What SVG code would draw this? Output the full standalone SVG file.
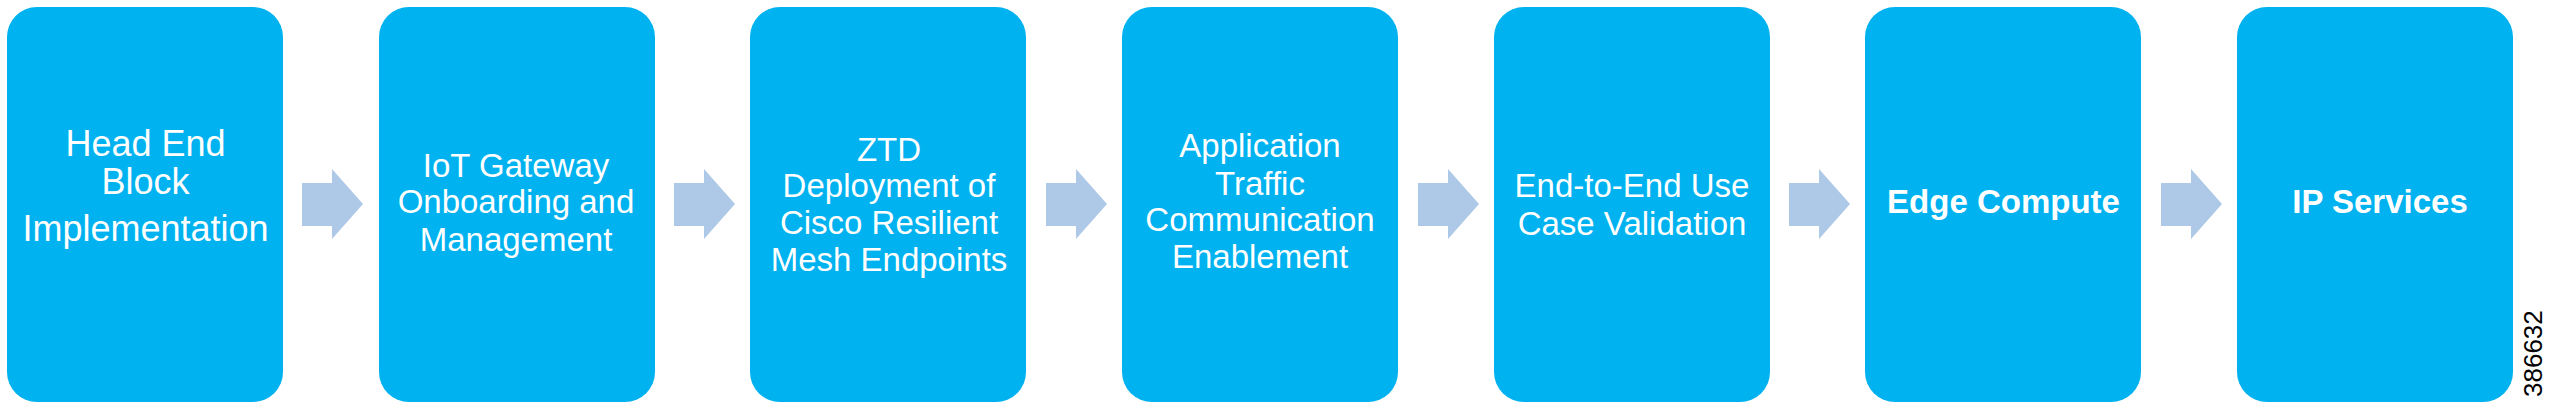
<svg xmlns="http://www.w3.org/2000/svg" width="2549" height="409" viewBox="0 0 2549 409">
<style>
.box{fill:#00b2ef}
.arr{fill:#adc9e7}
.t{font-family:"Liberation Sans",Arial,sans-serif;fill:#fff;text-anchor:middle;font-size:33px}
.b{font-weight:bold}
.id{font-family:"Liberation Sans",Arial,sans-serif;fill:#000;font-size:26px}
</style>
<defs>
<path id="arrow" class="arr" d="M0,183 H30 V169 L61,204 L30,239 V226 H0 Z"/>
</defs>
<rect width="2549" height="409" fill="#fff"/>
<g id="connectors">
<use href="#arrow" x="302"/>
<use href="#arrow" x="674"/>
<use href="#arrow" x="1046"/>
<use href="#arrow" x="1418"/>
<use href="#arrow" x="1789"/>
<use href="#arrow" x="2161"/>
</g>
<g id="n1">
<rect class="box" x="7" y="7" width="276" height="395" rx="30"/>
<text class="t" style="font-size:36px" x="145.5"><tspan x="145.5" y="156">Head End</tspan><tspan x="145.5" y="194">Block</tspan><tspan x="145.5" y="241">Implementation</tspan></text>
</g>
<g id="n2">
<rect class="box" x="379" y="7" width="276" height="395" rx="30"/>
<text class="t"><tspan x="516" y="177">IoT Gateway</tspan><tspan x="516" y="213">Onboarding and</tspan><tspan x="516" y="251">Management</tspan></text>
</g>
<g id="n3">
<rect class="box" x="750" y="7" width="276" height="395" rx="30"/>
<text class="t"><tspan x="889" y="161">ZTD</tspan><tspan x="889" y="197">Deployment of</tspan><tspan x="889" y="234">Cisco Resilient</tspan><tspan x="889" y="271">Mesh Endpoints</tspan></text>
</g>
<g id="n4">
<rect class="box" x="1122" y="7" width="276" height="395" rx="30"/>
<text class="t"><tspan x="1260" y="157">Application</tspan><tspan x="1260" y="195">Traffic</tspan><tspan x="1260" y="231">Communication</tspan><tspan x="1260" y="268">Enablement</tspan></text>
</g>
<g id="n5">
<rect class="box" x="1494" y="7" width="276" height="395" rx="30"/>
<text class="t"><tspan x="1632" y="197">End-to-End Use</tspan><tspan x="1632" y="235">Case Validation</tspan></text>
</g>
<g id="n6">
<rect class="box" x="1865" y="7" width="276" height="395" rx="30"/>
<text class="t b" x="2003.5" y="213">Edge Compute</text>
</g>
<g id="n7">
<rect class="box" x="2237" y="7" width="276" height="395" rx="30"/>
<text class="t b" x="2380" y="213">IP Services</text>
</g>
<text class="id" transform="translate(2542,397) rotate(-90)">386632</text>
</svg>
